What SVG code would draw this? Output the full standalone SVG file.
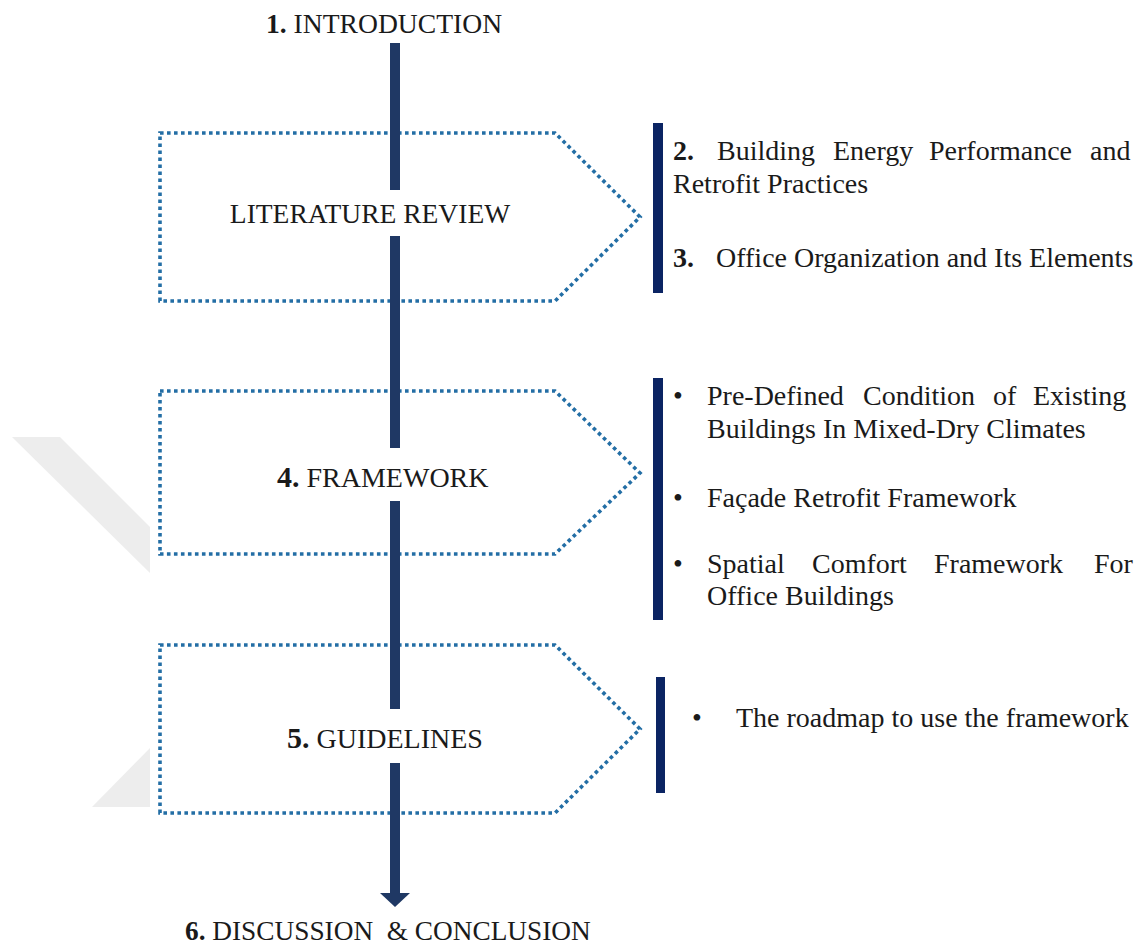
<svg xmlns="http://www.w3.org/2000/svg" width="1142" height="951" viewBox="0 0 1142 951">
<style>
.t{font-family:"Liberation Serif","Times New Roman",serif;fill:#1a1a1a;}
.lab{font-size:28px;}
.side{font-size:28px;}
.b{font-weight:bold;}
.box{fill:#ffffff;stroke:#236ea5;stroke-width:3.6;stroke-dasharray:3.6 3.4;}
.bar{fill:#0b2463;}
.shaft{fill:#1f3864;}
.wm{fill:#ededed;}
</style>
<rect width="1142" height="951" fill="#ffffff"/>
<g id="watermark">
<polygon class="wm" points="12,437 60,437 150,527 150,573"/>
<polygon class="wm" points="92,807 150,807 150,748"/>
</g>
<g id="intro">
<text class="t" x="266" y="33" style="font-size:27.6px"><tspan class="b">1.</tspan> INTRODUCTION</text>
</g>
<g id="literature-review">
<polygon class="box" points="160,133 555,133 640,217 555,301 160,301"/>
<text class="t lab" x="370" y="223" text-anchor="middle" style="font-size:27.5px">LITERATURE REVIEW</text>
</g>
<g id="literature-items">
<rect class="bar" x="653" y="123" width="10" height="170"/>
<text class="t side" y="160"><tspan class="b" x="673">2.</tspan><tspan x="717">Building</tspan><tspan x="833">Energy</tspan><tspan x="929">Performance</tspan><tspan x="1090">and</tspan></text>
<text class="t side" x="673" y="193">Retrofit Practices</text>
<text class="t side" y="267"><tspan class="b" x="673">3.</tspan><tspan x="716">Office Organization and Its Elements</tspan></text>
</g>
<g id="framework">
<polygon class="box" points="160,391 555,391 640,473 555,554 160,554"/>
<text class="t lab" x="277" y="487"><tspan class="b" style="font-size:30px">4.</tspan> FRAMEWORK</text>
</g>
<g id="framework-items">
<rect class="bar" x="653" y="378" width="10" height="242"/>
<text class="t side" x="673" y="405">•</text>
<text class="t side" y="405"><tspan x="707">Pre-Defined</tspan><tspan x="863">Condition</tspan><tspan x="993">of</tspan><tspan x="1033">Existing</tspan></text>
<text class="t side" x="707" y="438">Buildings In Mixed-Dry Climates</text>
<text class="t side" x="673" y="507">•</text>
<text class="t side" x="707" y="507">Façade Retrofit Framework</text>
<text class="t side" x="673" y="573">•</text>
<text class="t side" y="573"><tspan x="707">Spatial</tspan><tspan x="812">Comfort</tspan><tspan x="934">Framework</tspan><tspan x="1094">For</tspan></text>
<text class="t side" x="707" y="605">Office Buildings</text>
</g>
<g id="guidelines">
<polygon class="box" points="160,645 555,645 640,729 555,813 160,813"/>
<text class="t lab" x="287" y="748"><tspan class="b" style="font-size:30px">5.</tspan> GUIDELINES</text>
</g>
<g id="guidelines-items">
<rect class="bar" x="656" y="677" width="9" height="116"/>
<text class="t side" x="692" y="727">•</text>
<text class="t side" x="736" y="727">The roadmap to use the framework</text>
</g>
<g id="conclusion">
<text class="t" x="185" y="940" style="font-size:27.3px" xml:space="preserve"><tspan class="b">6.</tspan> DISCUSSION  &amp; CONCLUSION</text>
</g>
<g id="connectors">
<rect class="shaft" x="390" y="43" width="10" height="147"/>
<rect class="shaft" x="390" y="236" width="10" height="212"/>
<rect class="shaft" x="390" y="501" width="10" height="208"/>
<rect class="shaft" x="390" y="763" width="10" height="131"/>
<polygon class="shaft" points="380,893 410,893 395,907"/>
</g>
</svg>
